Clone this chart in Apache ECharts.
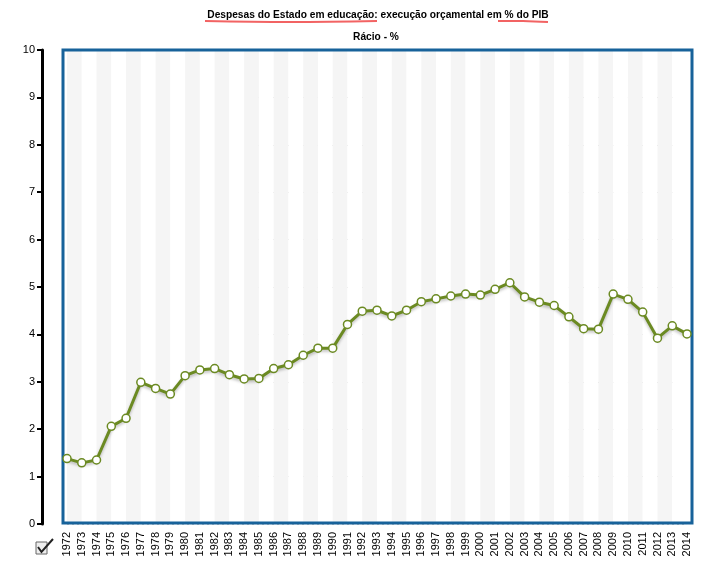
<!DOCTYPE html>
<html>
<head>
<meta charset="utf-8">
<script src="https://cdn.jsdelivr.net/npm/echarts@6/dist/echarts.min.js"></script>
<style>
html,body{margin:0;padding:0;background:#fff;}
#chart{width:717px;height:566px;}
</style>
</head>
<body>
<div id="chart"></div>
<script>
var years = ['1972','1973','1974','1975','1976','1977','1978','1979','1980','1981','1982','1983','1984','1985','1986','1987','1988','1989','1990','1991','1992','1993','1994','1995','1996','1997','1998','1999','2000','2001','2002','2003','2004','2005','2006','2007','2008','2009','2010','2011','2012','2013','2014'];
var ratio = [1.38,1.29,1.35,2.06,2.23,2.99,2.86,2.74,3.13,3.25,3.28,3.15,3.06,3.07,3.28,3.36,3.56,3.71,3.71,4.21,4.49,4.51,4.39,4.51,4.69,4.75,4.81,4.85,4.83,4.95,5.09,4.79,4.68,4.61,4.37,4.12,4.11,4.85,4.74,4.47,3.92,4.18,4.01];
var yTicks = [0,10,1];
var titleText = 'Despesas do Estado em educação: execução orçamental em % do PIB';
var subText = 'Rácio - %';

var FONT = '"Liberation Sans", Arial, sans-serif';
var chart = echarts.init(document.getElementById('chart'), null, {renderer:'canvas'});
chart.setOption({
  animation:false,
  backgroundColor:'#fff',
  title:[
    {text:titleText, left:373, top:5, textAlign:'center',
     textStyle:{fontFamily:FONT, fontSize:10.2, fontWeight:'bold', color:'#000'}},
    {text:subText, left:371, top:27, textAlign:'center',
     textStyle:{fontFamily:FONT, fontSize:10.2, fontWeight:'bold', color:'#000'}}
  ],
  grid:[
    {left:67, right:30, top:50, bottom:42, show:false},
    {left:63, right:25, top:50, bottom:43, show:true, borderColor:'#17629a', borderWidth:3, backgroundColor:'transparent', z:3}
  ],
  xAxis:[
    {type:'category', gridIndex:0, data:years, boundaryGap:false,
     axisLine:{show:false}, axisTick:{show:false},
     axisLabel:{rotate:90, fontFamily:FONT, fontSize:11, color:'#000', margin:8, interval:0},
     splitLine:{show:false},
     splitArea:{show:true, areaStyle:{color:['#f5f5f5','#ffffff']}}},
    {type:'value', gridIndex:1, show:false}
  ],
  yAxis:[
    {type:'value', gridIndex:0, min:yTicks[0], max:yTicks[1], interval:yTicks[2], offset:25,
     axisLine:{show:true, lineStyle:{color:'#000', width:3}},
     axisTick:{show:true, length:5, lineStyle:{color:'#000', width:2}},
     axisLabel:{fontFamily:FONT, fontSize:11, color:'#000', margin:7},
     splitLine:{show:true, lineStyle:{color:'#c8c8c8', type:[2,3], width:1}}},
    {type:'value', gridIndex:1, show:false}
  ],
  series:[{
    type:'line', xAxisIndex:0, yAxisIndex:0, data:ratio, z:5,
    symbol:'circle', symbolSize:8,
    lineStyle:{color:'#6b8a22', width:3, shadowColor:'rgba(0,0,0,0.25)', shadowBlur:3, shadowOffsetY:2},
    itemStyle:{color:'#ffffff', borderColor:'#6b8a22', borderWidth:1.5}
  }],
  graphic:[
    {type:'polyline', shape:{points:[[205,21],[290,22],[377,21]], smooth:0.4}, style:{stroke:'#f26363', lineWidth:2, fill:null}, z:10},
    {type:'polyline', shape:{points:[[498,21],[523,21],[548,22]], smooth:0.4}, style:{stroke:'#f26363', lineWidth:2, fill:null}, z:10},
    {type:'rect', shape:{x:36, y:542, width:11, height:12}, style:{fill:'#eeeeee', stroke:'#666', lineWidth:1}, z:10},
    {type:'polyline', shape:{points:[[38,547],[41.5,552],[53,539]]}, style:{stroke:'#222', lineWidth:2, fill:null}, z:11}
  ]
});
</script>
</body>
</html>
